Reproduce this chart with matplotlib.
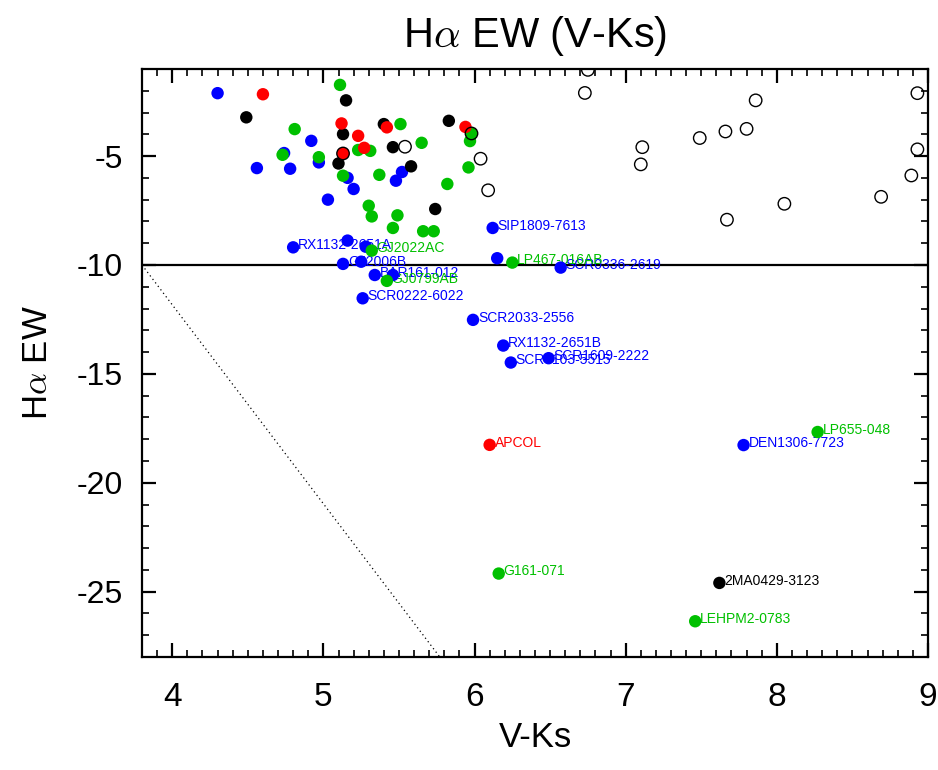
import matplotlib
matplotlib.use("Agg")
import matplotlib.pyplot as plt

plt.rcParams["font.family"] = ["Liberation Sans", "DejaVu Sans"]
plt.rcParams["mathtext.fontset"] = "cm"
plt.rcParams["axes.unicode_minus"] = False

# --- sample values: V-Ks colour and H-alpha equivalent width ---
blue_x = [4.30, 4.92, 4.74, 4.97, 4.56, 4.78, 5.03, 5.16, 5.20, 5.52, 5.48,
          5.16, 5.28, 5.25, 5.46, 6.15]
blue_y = [-2.11, -4.30, -4.86, -5.29, -5.55, -5.58, -7.00, -6.00, -6.51, -5.73,
          -6.13, -8.88, -9.16, -9.85, -10.46, -9.69]

blue_names = ["RX1132-2651A", "GJ2006B", "BAR161-012", "SCR0222-6022",
              "SIP1809-7613", "SCR0336-2619", "SCR2033-2556", "RX1132-2651B",
              "SCR0103-5515", "SCR1609-2222", "DEN1306-7723"]
blue_lx = [4.80, 5.13, 5.34, 5.26, 6.12, 6.57, 5.99, 6.19, 6.24, 6.49, 7.78]
blue_ly = [-9.19, -9.95, -10.46, -11.53, -8.30, -10.12, -12.52, -13.70,
           -14.48, -14.28, -18.27]

green_x = [5.11, 4.81, 4.73, 4.97, 5.13, 5.23, 5.31, 5.51, 5.65, 5.37, 5.82,
           5.96, 5.97, 5.98, 5.30, 5.32, 5.49, 5.46, 5.66, 5.73]
green_y = [-1.73, -3.76, -4.94, -5.05, -5.90, -4.72, -4.76, -3.53, -4.39, -5.86,
           -6.28, -5.52, -4.31, -3.96, -7.28, -7.77, -7.72, -8.30, -8.45, -8.45]

green_names = ["GJ2022AC", "GJ0799AB", "LP467-016AB", "LP655-048",
               "G161-071", "LEHPM2-0783"]
green_lx = [5.32, 5.42, 6.25, 8.27, 6.16, 7.46]
green_ly = [-9.34, -10.73, -9.89, -17.67, -24.17, -26.36]

black_x = [4.49, 5.15, 5.13, 5.10, 5.40, 5.46, 5.58, 5.83, 5.74]
black_y = [-3.22, -2.44, -3.99, -5.34, -3.53, -4.59, -5.47, -3.38, -7.43]

black_names = ["2MA0429-3123"]
black_lx = [7.62]
black_ly = [-24.60]

red_x = [4.60, 5.12, 5.23, 5.27, 5.42, 5.94, 5.13]
red_y = [-2.16, -3.50, -4.07, -4.62, -3.68, -3.66, -4.88]

red_names = ["APCOL"]
red_lx = [6.10]
red_ly = [-18.26]

open_x = [5.54, 6.04, 6.09, 6.75, 6.73, 7.11, 7.10, 7.49, 7.66, 7.80, 7.86,
          7.67, 8.05, 8.69, 8.89, 8.93, 8.93, 5.13, 5.98]
open_y = [-4.57, -5.12, -6.57, -1.04, -2.10, -4.59, -5.38, -4.17, -3.87, -3.75,
          -2.44, -7.92, -7.19, -6.87, -5.89, -4.69, -2.11, -4.88, -3.96]

# threshold lines
thresh_y = -10.0
diag_x = [3.8, 5.77]
diag_y = [-10.0, -28.0]

BLUE = "#0000ff"
GREEN = "#00c000"
BLACK = "#000000"
RED = "#ff0000"

fig = plt.figure(figsize=(9.38, 7.70), dpi=100)
ax = fig.add_axes([0.1514, 0.1468, 0.8379, 0.7636])

ax.axhline(thresh_y, color="black", lw=1.6, zorder=1)
ax.plot(diag_x, diag_y, color="black", lw=0.9, ls=(0, (1, 2.5)), zorder=1)

S = 80
groups = [
    (blue_x + blue_lx, blue_y + blue_ly, BLUE, 3),
    (green_x + green_lx, green_y + green_ly, GREEN, 4),
    (black_x + black_lx, black_y + black_ly, BLACK, 5),
    (red_x + red_lx, red_y + red_ly, RED, 6),
]
for gx, gy, col, z in groups:
    ax.scatter(gx, gy, s=S, color=col, edgecolors="none", zorder=z)

ax.scatter(open_x, open_y, s=S, facecolors="none", edgecolors="black",
           linewidths=1.0, zorder=7)

for names, lx, ly, col in [(blue_names, blue_lx, blue_ly, BLUE),
                           (green_names, green_lx, green_ly, GREEN),
                           (black_names, black_lx, black_ly, BLACK),
                           (red_names, red_lx, red_ly, RED)]:
    for n, xx, yy in zip(names, lx, ly):
        ax.annotate(n, (xx, yy), xytext=(3.5, -1.2), textcoords="offset points",
                    ha="left", va="baseline", fontsize=10, color=col,
                    zorder=2)

ax.set_xlim(3.8, 9.0)
ax.set_ylim(-28, -1)
ax.set_xticks([4, 5, 6, 7, 8, 9])
ax.set_yticks([-5, -10, -15, -20, -25])
ax.set_xticks([x / 10 for x in range(38, 91)], minor=True)
ax.set_yticks(list(range(-28, 0)), minor=True)

ax.tick_params(which="both", direction="in", top=True, right=True)
ax.tick_params(axis="x", labelsize=24, pad=18)
ax.tick_params(axis="y", labelsize=23, pad=14)
ax.tick_params(which="major", length=10, width=1.6)
ax.tick_params(which="minor", length=5, width=1.2)
for sp in ax.spines.values():
    sp.set_linewidth(1.6)

ax.set_title(r"H$\alpha$ EW (V-Ks)", fontsize=30, pad=16)
ax.set_xlabel("V-Ks", fontsize=25, labelpad=6)
ax.set_ylabel(r"H$\alpha$ EW", fontsize=25, labelpad=16)

fig.savefig("out.png", dpi=100)
